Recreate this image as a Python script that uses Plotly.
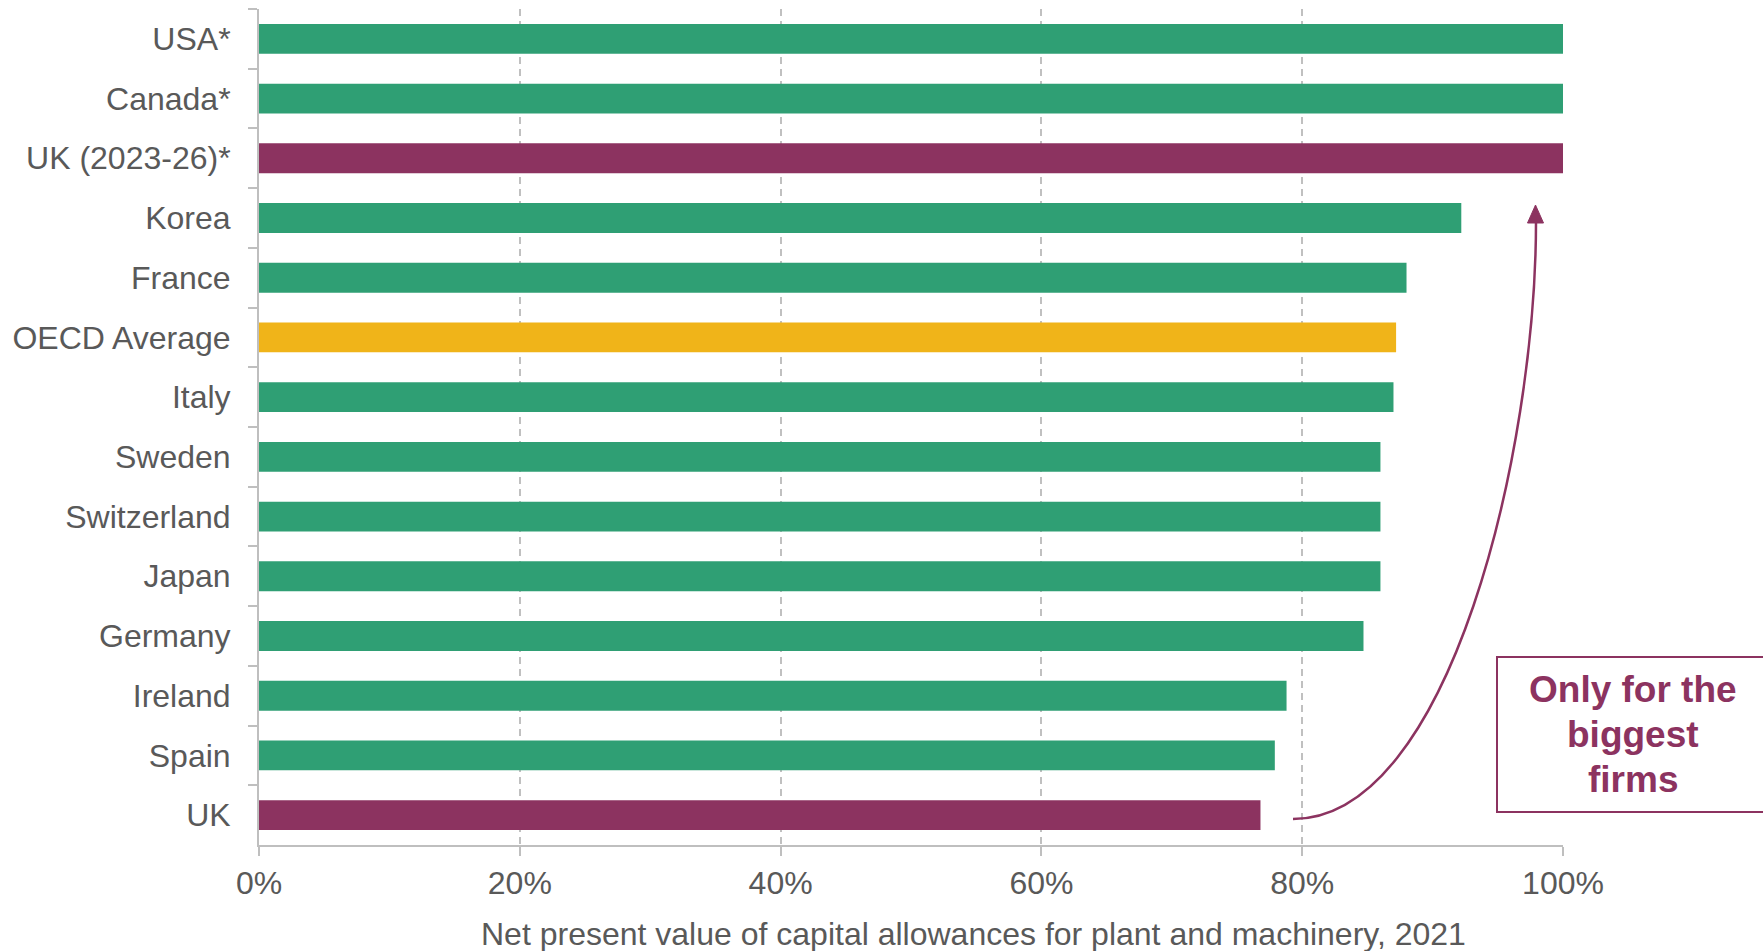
import plotly.graph_objects as go

# ---- data ----
countries = ["USA*", "Canada*", "UK (2023-26)*", "Korea", "France", "OECD Average",
             "Italy", "Sweden", "Switzerland", "Japan", "Germany", "Ireland", "Spain", "UK"]
npv_values = [1.000, 1.000, 1.000, 0.922, 0.880, 0.872,
              0.870, 0.860, 0.860, 0.860, 0.847, 0.788, 0.779, 0.768]
groups = ["other", "other", "uk", "other", "other", "oecd",
          "other", "other", "other", "other", "other", "other", "other", "uk"]
x_tick_values = [0, 0.2, 0.4, 0.6, 0.8, 1.0]
x_title = "Net present value of capital allowances for plant and machinery, 2021"
note_lines = ["Only for the", "biggest", "firms"]

# ---- styles ----
GREEN = "#2F9F74"
PURPLE = "#8C3360"
YELLOW = "#F0B419"
TEXT = "#595959"
AXIS = "#BFBFBF"
FONT = "Liberation Sans, Arial, sans-serif"
color_map = {"other": GREEN, "uk": PURPLE, "oecd": YELLOW}
bar_colors = [color_map[g] for g in groups]

W, H = 1763, 951
L, R, T, B = 259, 200, 9, 106
PW, PH = W - L - R, H - T - B


def fx(px):
    return (px - L) / PW


def fy(py):
    return (H - B - py) / PH


fig = go.Figure()
fig.add_trace(go.Bar(
    x=npv_values, y=countries, orientation="h",
    marker=dict(color=bar_colors, line=dict(width=0)),
    width=0.5, hoverinfo="x+y",
))

fig.update_layout(
    width=W, height=H,
    margin=dict(l=L, r=R, t=T, b=B, pad=0),
    plot_bgcolor="white", paper_bgcolor="white",
    showlegend=False,
    font=dict(family=FONT, color=TEXT),
)
fig.update_xaxes(
    range=[0, 1], tickvals=x_tick_values, tickformat=".0%",
    showgrid=True, gridcolor="#C0C0C0", gridwidth=1.6, griddash="7px,5px",
    zeroline=False, showline=True, linecolor=AXIS, linewidth=2,
    ticks="outside", ticklen=9, tickwidth=2, tickcolor=AXIS,
    tickfont=dict(size=32, color=TEXT, family=FONT),
)
fig.update_yaxes(
    categoryorder="array", categoryarray=countries, autorange="reversed",
    showgrid=False, zeroline=False, showline=True, linecolor=AXIS, linewidth=2,
    ticks="outside", tickson="boundaries", ticklen=9, tickwidth=2, tickcolor=AXIS,
    tickfont=dict(size=32, color=TEXT, family=FONT),
    ticklabelstandoff=20,
)

# x-axis title (offset to the right as in the original)
fig.add_annotation(
    x=fx(973.5), y=fy(934), xref="paper", yref="paper",
    text=x_title, showarrow=False, xanchor="center", yanchor="middle",
    font=dict(size=32, color=TEXT, family=FONT),
)

# curved arrow
p0, p1, p2, p3 = (1293, 819), (1450, 819), (1536, 450), (1536, 222)
path = "M {},{} C {},{} {},{} {},{}".format(
    fx(p0[0]), fy(p0[1]), fx(p1[0]), fy(p1[1]),
    fx(p2[0]), fy(p2[1]), fx(p3[0]), fy(p3[1]))
fig.add_shape(type="path", path=path, xref="paper", yref="paper",
              line=dict(color=PURPLE, width=2.5))
tri = "M {},{} L {},{} L {},{} Z".format(
    fx(1535.5), fy(205), fx(1527.5), fy(223), fx(1543.5), fy(223))
fig.add_shape(type="path", path=tri, xref="paper", yref="paper",
              line=dict(color=PURPLE, width=1), fillcolor=PURPLE)

# note box
fig.add_shape(type="rect", xref="paper", yref="paper",
              x0=fx(1497), x1=fx(1780), y0=fy(812), y1=fy(657),
              line=dict(color=PURPLE, width=2), fillcolor="rgba(0,0,0,0)")
for i, line in enumerate(note_lines):
    fig.add_annotation(
        x=fx(1633), y=fy(689 + 45 * i), xref="paper", yref="paper",
        text="<b>" + line + "</b>", showarrow=False,
        xanchor="center", yanchor="middle", align="center",
        font=dict(size=37, color=PURPLE, family=FONT),
    )

fig.write_html("out.html")
